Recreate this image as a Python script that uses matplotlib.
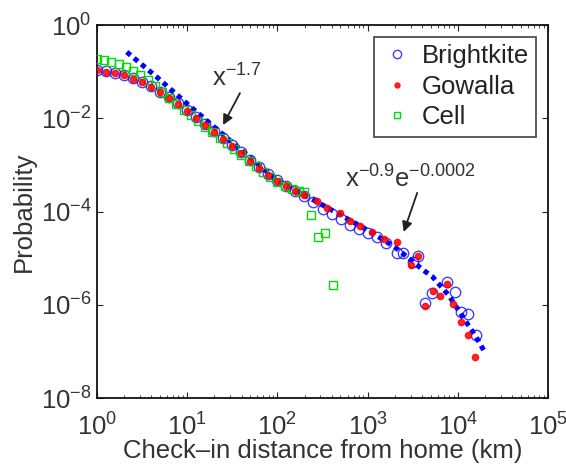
import matplotlib
matplotlib.use("Agg")
import matplotlib.pyplot as plt
import numpy as np
from matplotlib.ticker import LogLocator, FixedLocator, NullFormatter

plt.rcParams['font.family'] = ['Liberation Sans', 'DejaVu Sans']
plt.rcParams['mathtext.fontset'] = 'custom'
plt.rcParams['mathtext.rm'] = 'Liberation Sans'
plt.rcParams['mathtext.it'] = 'Liberation Sans'

# ---- data (log10 values) ----
bk_logx = [0.0, 0.1, 0.2, 0.3, 0.4, 0.5, 0.6, 0.7, 0.8, 0.9, 1.0, 1.1, 1.2, 1.3, 1.4,
           1.5, 1.6, 1.7, 1.8, 1.9, 2.0, 2.1, 2.2, 2.3, 2.4, 2.5, 2.6, 2.7, 2.8, 2.9,
           3.0, 3.1, 3.2, 3.33, 3.39, 3.50, 3.56, 3.64, 3.71, 3.88, 3.97, 4.03, 4.11, 4.20]
bk_logy = [-0.97, -0.99, -1.02, -1.07, -1.14, -1.22, -1.31, -1.43, -1.55, -1.68, -1.82,
           -1.97, -2.12, -2.27, -2.43, -2.58, -2.73, -2.89, -3.04, -3.19, -3.33, -3.46,
           -3.57, -3.67, -3.80, -3.94, -4.05, -4.16, -4.28, -4.38, -4.46, -4.55, -4.68,
           -4.90, -4.90, -5.08, -4.96, -5.97, -5.75, -5.51, -5.73, -6.16, -6.20, -6.65]

gw_logx = [0.0, 0.1, 0.2, 0.3, 0.4, 0.5, 0.6, 0.7, 0.8, 0.9, 1.0, 1.1, 1.2, 1.3, 1.4,
           1.5, 1.6, 1.7, 1.8, 1.9, 2.0, 2.1, 2.2, 2.3, 2.44, 2.55, 2.69, 2.8, 2.92,
           3.05, 3.18, 3.33, 3.48, 3.56, 3.64, 3.72, 3.80, 3.88, 3.95, 4.03, 4.11, 4.19]
gw_logy = [-0.97, -1.00, -1.03, -1.08, -1.15, -1.23, -1.32, -1.44, -1.57, -1.70, -1.84,
           -1.99, -2.14, -2.29, -2.45, -2.60, -2.75, -2.91, -3.06, -3.21, -3.34, -3.45,
           -3.55, -3.64, -3.78, -3.93, -4.03, -4.20, -4.32, -4.45, -4.58, -4.66, -5.15,
           -4.96, -6.03, -5.70, -5.82, -5.56, -5.99, -6.37, -6.65, -7.13]

cell_logx = [0.0, 0.08, 0.16, 0.24, 0.32, 0.40, 0.48, 0.56, 0.64, 0.72, 0.80, 0.88,
             0.96, 1.04, 1.12, 1.20, 1.28, 1.36, 1.44, 1.52, 1.60, 1.68, 1.76, 1.84,
             1.92, 2.00, 2.08, 2.16, 2.24, 2.30, 2.37, 2.45, 2.53, 2.62]
cell_logy = [-0.72, -0.75, -0.79, -0.84, -0.90, -0.98, -1.07, -1.18, -1.31, -1.43,
             -1.56, -1.69, -1.82, -1.94, -2.06, -2.18, -2.30, -2.42, -2.54, -2.66,
             -2.79, -2.91, -3.03, -3.15, -3.27, -3.37, -3.46, -3.52, -3.56, -3.58,
             -4.07, -4.55, -4.46, -5.58]

fit_logx = [0.33, 0.665, 1.0, 1.5, 2.0, 2.5, 3.0, 3.3, 3.62, 3.72, 3.9, 4.13, 4.19, 4.30]
fit_logy = [-0.58, -1.12, -1.69, -2.52, -3.33, -3.86, -4.40, -4.76, -5.26, -5.40,
            -5.80, -6.48, -6.65, -7.02]

xticks_exp = [0, 1, 2, 3, 4, 5]
yticks_exp = [-8, -6, -4, -2, 0]

def p(v):
    return np.power(10.0, np.asarray(v))

FS = 18.5
fig = plt.figure(figsize=(5.66, 4.66), dpi=100)
ax = fig.add_axes([97/566, 1 - 398/466, (548-97)/566, (398-25)/466])

ax.plot(p(fit_logx), p(fit_logy), color='#0000ff', linewidth=3.6,
        linestyle=(0, (1.0, 0.9)), zorder=2)
ax.plot(p(bk_logx), p(bk_logy), 'o', mfc='none', mec='#0000ff', mew=1.0, ms=7.5,
        alpha=0.75, label='Brightkite', zorder=3)
ax.plot(p(gw_logx), p(gw_logy), 'o', mfc='#ff0000', mec='#ff0000', ms=4.5,
        alpha=0.85, label='Gowalla', zorder=4)
ax.plot(p(cell_logx), p(cell_logy), 's', mfc='none', mec='#00dd00', mew=1.0, ms=5.5,
        label='Cell', zorder=3)

ax.set_xscale('log')
ax.set_yscale('log')
ax.set_xlim(1, 1e5)
ax.set_ylim(1e-8, 1)

ax.xaxis.set_major_locator(FixedLocator(p(xticks_exp)))
ax.yaxis.set_major_locator(FixedLocator(p(yticks_exp)))
ax.set_yticklabels([r'$\mathregular{10^{%d}}$' % e for e in yticks_exp])
ax.set_xticklabels([r'$\mathregular{10^{%d}}$' % e for e in xticks_exp])
ax.xaxis.set_minor_locator(LogLocator(base=10, subs=np.arange(2, 10), numticks=20))
ax.xaxis.set_minor_formatter(NullFormatter())
ax.yaxis.set_minor_locator(FixedLocator([]))

ax.tick_params(which='both', direction='in', top=True, right=True,
               labelsize=FS, colors='#222222', labelcolor='#333333')
ax.tick_params(axis='x', which='major', pad=11)
ax.tick_params(axis='y', which='major', pad=4)
ax.tick_params(which='major', length=4, width=0.8)
ax.tick_params(which='minor', length=2, width=0.6)
for s in ax.spines.values():
    s.set_linewidth(1.3)
    s.set_color('#111111')

ax.set_xlabel('Check\u2013in distance from home (km)', fontsize=FS, color='#333333',
              labelpad=-1)
ax.set_ylabel('Probability', fontsize=FS, color='#333333', labelpad=3)

ax.text(10**1.275, 10**-1.33, r'$\mathregular{x^{-1.7}}$', fontsize=FS,
        color='#333333', ha='left', va='baseline')
ax.annotate('', xy=(10**1.397, 10**-2.146), xytext=(10**1.585, 10**-1.46),
            arrowprops=dict(arrowstyle='-|>', color='#222222', lw=1.3,
                            shrinkA=0, shrinkB=0, mutation_scale=15))
ax.text(10**2.75, 10**-3.48, r'$\mathregular{x^{-0.9}e^{-0.0002}}$', fontsize=FS,
        color='#333333', ha='left', va='baseline')
ax.annotate('', xy=(10**3.40, 10**-4.44), xytext=(10**3.55, 10**-3.6),
            arrowprops=dict(arrowstyle='-|>', color='#222222', lw=1.3,
                            shrinkA=0, shrinkB=0, mutation_scale=15))

leg = ax.legend(loc='upper right', fontsize=FS, frameon=True, fancybox=False,
                edgecolor='#111111', borderaxespad=0.45, handletextpad=0.35,
                handlelength=1.2, borderpad=0.3, labelspacing=0.25,
                markerscale=0.8)
leg.get_frame().set_linewidth(1.2)
for t in leg.get_texts():
    t.set_color('#222222')

fig.savefig('out.png', dpi=100)
